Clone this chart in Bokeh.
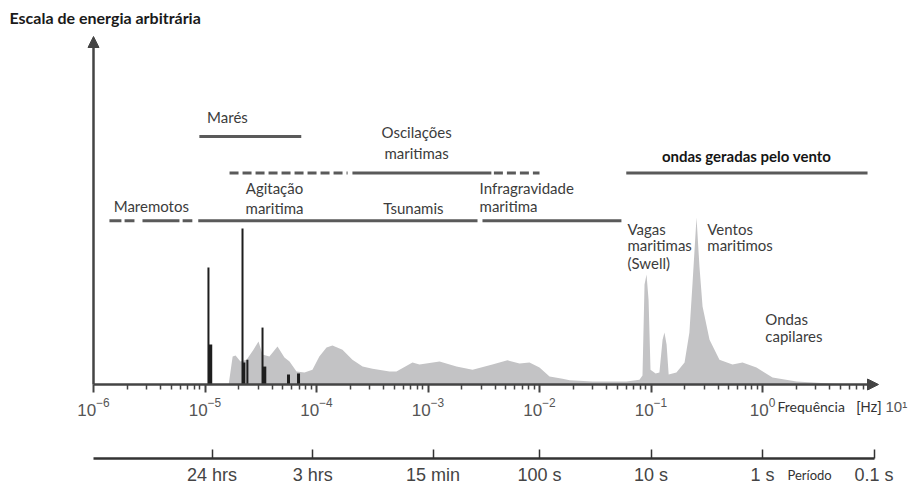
from bokeh.plotting import figure
from bokeh.models import (Range1d, LogAxis, FixedTicker, Arrow, NormalHead, Label,
                          ColumnDataSource)
from bokeh.core.properties import value
from bokeh.embed import file_html
from bokeh.resources import INLINE

# ---------------- data ----------------
freq_decades = [-6, -5, -4, -3, -2, -1, 0]
minor_mult = [2, 3, 4, 5, 6, 7, 8, 9]

period_seconds = [86400, 10800, 900, 100, 10, 1, 0.1]
period_labels = ["24 hrs", "3 hrs", "15 min", "100 s", "10 s", "1 s", "0.1 s"]

spec_freq = [1.63e-5, 1.77e-5, 1.88e-5, 2.08e-5, 2.36e-5, 2.72e-5, 3.02e-5, 3.28e-5, 3.78e-5, 4.47e-5,
             5.16e-5, 5.73e-5, 6.62e-5, 7.80e-5, 9.2e-5, 1.06e-4, 1.23e-4, 1.39e-4, 1.71e-4, 2.10e-4,
             2.59e-4, 3.18e-4, 4.52e-4, 5.21e-4, 7.26e-4, 8.39e-4, 1.27e-3, 1.80e-3, 2.51e-3, 3.78e-3,
             5.16e-3, 6.62e-3, 8.13e-3, 1.0e-2, 1.23e-2, 1.61e-2, 1.86e-2, 2.99e-2, 6.03e-2, 7.88e-2,
             8.39e-2, 8.75e-2, 9.12e-2, 9.51e-2, 9.9e-2, 0.110, 0.119, 0.127, 0.132, 0.138,
             0.144, 0.169, 0.200, 0.221, 0.236, 0.256, 0.272, 0.290, 0.335, 0.411,
             0.538, 0.662, 0.883, 1.23, 2.02, 3.99, 7.89]
spec_energy = [0, 8.1, 8.4, 6.7, 7.2, 10.1, 12.5, 8.7, 8.1, 11.0,
               7.8, 6.7, 3.8, 3.5, 4.3, 8.1, 10.7, 11.3, 10.1, 7.2,
               5.2, 4.6, 3.8, 3.8, 6.4, 5.8, 6.7, 5.2, 4.3, 5.8,
               7.0, 6.1, 6.4, 4.9, 2.3, 1.7, 1.2, 0.9, 0.9, 1.4,
               2.6, 29.0, 31.9, 24.6, 4.3, 3.2, 3.5, 13.0, 15.1, 11.6,
               2.9, 3.5, 6.4, 15.1, 29.6, 48.4, 34.2, 22.6, 13.0, 7.2,
               5.8, 6.4, 4.9, 2.0, 0.9, 0.3, 0]

tide_freq = [1.074e-5, 1.12e-5, 2.17e-5, 2.23e-5, 2.40e-5, 3.28e-5, 3.42e-5, 5.61e-5, 6.9e-5]
tide_energy = [33.9, 11.6, 45.2, 6.4, 7.2, 16.5, 5.2, 2.9, 3.2]
tide_width = [2, 3.5, 2, 3, 2, 2, 3.5, 3, 3]

# frequency bands (range bars)
band_solid_x0 = [8.9e-6, 2.1e-4, 6.0e-2, 1.39e-6, 1.90e-6, 2.75e-6, 6.3e-6, 8.7e-6, 3.08e-3]
band_solid_x1 = [7.3e-5, 3.7e-3, 8.75, 1.78e-6, 2.33e-6, 5.9e-6, 7.7e-6, 2.78e-3, 5.43e-2]
band_solid_y = [71.9, 61.3, 61.3, 47.5, 47.5, 47.5, 47.5, 47.5, 47.5]
band_dash_x0 = [1.66e-5, 3.9e-3]
band_dash_x1 = [1.9e-4, 1.0e-2]
band_dash_y = [61.3, 61.3]

label_text = ["Marés", "Oscilações", "maritimas", "Agitação", "maritima", "Tsunamis", "Maremotos",
              "Infragravidade", "maritima", "Vagas", "maritimas", "(Swell)", "Ventos", "maritimos",
              "Ondas", "capilares"]
label_freq = [1.59e-5, 7.9e-4, 7.9e-4, 4.2e-5, 4.2e-5, 7.4e-4, 3.3e-6,
              2.9e-3, 2.9e-3, 6.15e-2, 6.15e-2, 6.15e-2, 0.32, 0.32, 1.06, 1.06]
label_energy = [77.4, 73.3, 67.2, 57.1, 51.3, 51.3, 51.6,
                57.1, 51.6, 45.2, 40.3, 35.1, 45.2, 40.3, 19.1, 14.2]
label_align = ["center"] * 7 + ["left"] * 9

# ---------------- layout helpers (pixel layout -> data space) ----------------
W, H = 910, 484
ORIGIN = 1          # canvas offset within the page
PXD = 111.5         # pixels per decade
X0PX, Y0PX = 94, 385  # page position of f=1e-6 and energy=0
PXE = 3.45          # pixels per energy unit


def fx(px):
    return 10 ** (-6 + (px - X0PX) / PXD)


def ey(py):
    return (Y0PX - py) / PXE


p = figure(width=W, height=H, x_axis_type="log",
           x_range=Range1d(fx(ORIGIN), fx(ORIGIN + W)),
           y_range=Range1d(ey(ORIGIN + H), ey(ORIGIN)),
           output_backend="svg", toolbar_location=None, min_border=0)
p.outline_line_color = None
p.grid.visible = False
p.background_fill_color = "white"

AX = "#444444"
# y axis (no ticks), through f = 1e-6
ya = p.yaxis[0]
ya.fixed_location = 1e-6
ya.bounds = (0, ey(44))
ya.ticker = FixedTicker(ticks=[])
ya.axis_line_width = 2.5
ya.axis_line_color = AX
ya.major_tick_line_color = None
ya.minor_tick_line_color = None

# frequency axis at energy 0
xa = p.xaxis[0]
xa.fixed_location = 0
xa.bounds = (1e-6, fx(872))
xa.ticker = FixedTicker(ticks=[10.0 ** d for d in freq_decades],
                        minor_ticks=[m * 10.0 ** d for d in freq_decades for m in minor_mult])
xa.axis_line_width = 2.5
xa.axis_line_color = AX
xa.major_tick_line_color = AX
xa.major_tick_line_width = 2
xa.minor_tick_line_color = AX
xa.minor_tick_line_width = 1.5
xa.major_tick_out = 8
xa.major_tick_in = 0
xa.minor_tick_out = 5
xa.minor_tick_in = 0
xa.major_label_standoff = 5
xa.major_label_text_font = "Liberation Sans"
xa.major_label_text_font_size = "17px"
xa.major_label_text_color = "#555555"

# period axis
pa = LogAxis(ticker=FixedTicker(ticks=[1.0 / s for s in period_seconds], minor_ticks=[]),
             major_label_overrides={1.0 / s: lab for s, lab in zip(period_seconds, period_labels)})
pa.fixed_location = ey(459)
pa.bounds = (1e-6, 10.0)
pa.axis_line_width = 2.5
pa.axis_line_color = "#333333"
pa.major_tick_line_color = "#333333"
pa.major_tick_line_width = 1.5
pa.major_tick_in = 9
pa.major_tick_out = 0
pa.minor_tick_line_color = None
pa.major_label_standoff = 6
pa.major_label_text_font = "Liberation Sans"
pa.major_label_text_font_size = "18px"
pa.major_label_text_color = "#444444"
p.add_layout(pa, "below")

# spectrum
p.varea(x=spec_freq, y1=[0] * len(spec_freq), y2=spec_energy, fill_color="#c3c3c5")

# tidal lines
tide_src = ColumnDataSource(dict(x=tide_freq, y0=[0] * len(tide_freq), y1=tide_energy, w=tide_width))
p.segment(x0="x", y0="y0", x1="x", y1="y1", line_width="w", line_color="#1e1e1e", source=tide_src)

# band bars
p.segment(x0=band_solid_x0, y0=band_solid_y, x1=band_solid_x1, y1=band_solid_y,
          line_width=3, line_color="#5a5a5a")
p.segment(x0=band_dash_x0, y0=band_dash_y, x1=band_dash_x1, y1=band_dash_y,
          line_width=3, line_color="#5a5a5a", line_dash="9 4")

# labels
lab_src = ColumnDataSource(dict(x=label_freq, y=label_energy, t=label_text, a=label_align))
p.text(x="x", y="y", text="t", text_align="a", text_baseline="middle", source=lab_src,
       text_font=value("Lato"), text_font_size=value("15px"), text_color="#3c3c3c")
p.text(x=[0.72], y=[66.1], text=["ondas geradas pelo vento"], text_align="center",
       text_baseline="middle", text_font=value("Lato"), text_font_size=value("15px"),
       text_font_style="bold", text_color="#151515")

# axis arrows
p.add_layout(Arrow(end=NormalHead(size=11, fill_color=AX, line_color=AX),
                   x_start=1e-6, y_start=ey(60), x_end=1e-6, y_end=ey(37), line_alpha=0))
p.add_layout(Arrow(end=NormalHead(size=11, fill_color=AX, line_color=AX),
                   x_start=fx(850), y_start=0, x_end=fx(879), y_end=0, line_alpha=0))

# title and texts outside the plotting area
p.add_layout(Label(x=fx(10), y=ey(18), text="Escala de energia arbitrária", text_font="Lato",
                   text_font_size="16px", text_font_style="bold", text_color="#1a1a1a",
                   text_baseline="middle"))
p.add_layout(Label(x=fx(778), y=ey(407), text="Frequência", text_font="Lato", text_font_size="14px",
                   text_color="#333333", text_baseline="middle"))
p.add_layout(Label(x=fx(857), y=ey(407), text="[Hz]", text_font="Liberation Sans", text_font_size="14px",
                   text_color="#333333", text_baseline="middle"))
p.add_layout(Label(x=fx(886), y=ey(407), text="10¹", text_font="Liberation Sans", text_font_size="15px",
                   text_color="#555555", text_baseline="middle"))
p.add_layout(Label(x=fx(788), y=ey(475), text="Período", text_font="Lato", text_font_size="13px",
                   text_color="#333333", text_baseline="middle"))

open("out.html", "w").write(file_html(p, INLINE))
